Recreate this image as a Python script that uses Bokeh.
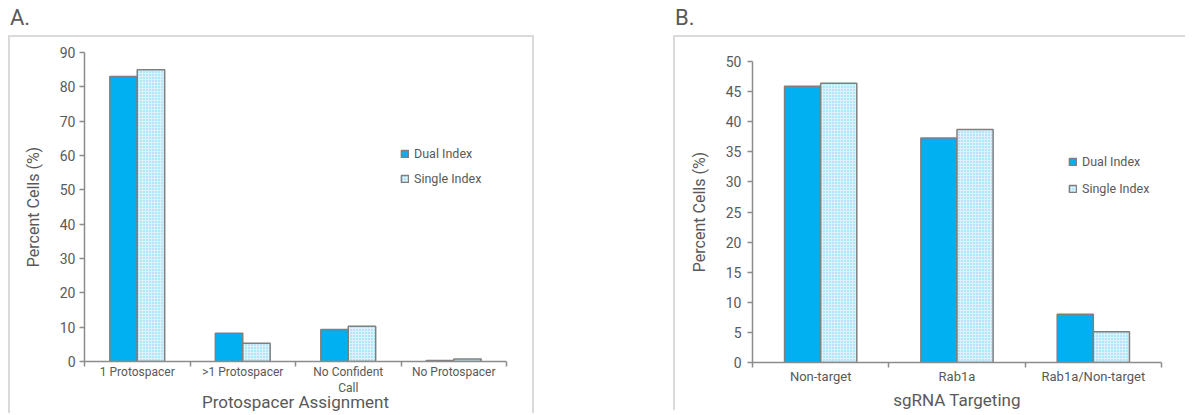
from bokeh.plotting import figure
from bokeh.models import Range1d, FixedTicker, Legend, LegendItem, Div, Spacer
from bokeh.layouts import row, column
from bokeh.embed import file_html
from bokeh.resources import INLINE
import numpy as np

# ---- data ----
series = ["Dual Index", "Single Index"]

a_categories = ["1 Protospacer", ">1 Protospacer", "No Confident\nCall", "No Protospacer"]
a_dual = [83.0, 8.2, 9.3, 0.3]
a_single = [85.0, 5.3, 10.3, 0.7]
a_yticks = [0, 10, 20, 30, 40, 50, 60, 70, 80, 90]

b_categories = ["Non-target", "Rab1a", "Rab1a/Non-target"]
b_dual = [45.9, 37.3, 8.0]
b_single = [46.4, 38.7, 5.1]
b_yticks = [0, 5, 10, 15, 20, 25, 30, 35, 40, 45, 50]

FONT = "Roboto"
TXT = "#595959"
AX = "#8c8c8c"
DUAL = "#00b0f0"
BORDER = "2px solid #dadada"


def panel(cats, dual, single, yticks, xlabel, fw, fh, mb_left, mb_right, mb_top,
          bar_w, leg_loc, leg_spacing, y_std, xl_std, xt_std, xt_size, styles):
    n = len(cats)
    p = figure(frame_width=fw, frame_height=fh, x_range=Range1d(-0.5, n - 0.5),
               y_range=Range1d(yticks[0], yticks[-1]), output_backend="svg",
               toolbar_location=None, min_border_left=mb_left, min_border_right=mb_right,
               min_border_top=mb_top, min_border_bottom=10)
    p.outline_line_color = None
    p.xgrid.grid_line_color = None
    p.ygrid.grid_line_color = None
    p.styles = styles

    idx = np.arange(n)
    r1 = p.vbar(x=idx - bar_w / 2, top=dual, width=bar_w, bottom=0, fill_color=DUAL,
                line_color="#7f7f7f", line_width=1.5)
    r2 = p.vbar(x=idx + bar_w / 2, top=single, width=bar_w, bottom=0, fill_color="#dcf3fd",
                hatch_pattern="dot", hatch_color="#6fd0f5", hatch_scale=3, hatch_weight=1,
                line_color="#7f7f7f", line_width=1.5)

    xa = p.xaxis[0]
    xa.ticker = FixedTicker(ticks=list(idx), minor_ticks=list(np.arange(n + 1) - 0.5))
    xa.major_label_overrides = {int(i): c for i, c in zip(idx, cats)}
    xa.major_tick_line_color = None
    xa.major_tick_out = 0
    xa.major_tick_in = 0
    xa.minor_tick_out = 5
    xa.minor_tick_in = 0
    xa.minor_tick_line_color = AX
    xa.minor_tick_line_width = 1.5
    xa.axis_line_color = AX
    xa.axis_line_width = 1.5
    xa.major_label_standoff = xt_std
    xa.major_label_text_font = FONT
    xa.major_label_text_font_size = xt_size
    xa.major_label_text_color = TXT
    xa.axis_label = xlabel
    xa.axis_label_text_font = FONT
    xa.axis_label_text_font_size = "17px"
    xa.axis_label_text_font_style = "normal"
    xa.axis_label_text_color = TXT
    xa.axis_label_standoff = xl_std

    ya = p.yaxis[0]
    ya.ticker = FixedTicker(ticks=yticks)
    ya.minor_tick_line_color = None
    ya.major_tick_out = 5
    ya.major_tick_in = 0
    ya.major_tick_line_color = AX
    ya.major_tick_line_width = 1.5
    ya.axis_line_color = AX
    ya.axis_line_width = 1.5
    ya.major_label_standoff = y_std
    ya.major_label_text_font = FONT
    ya.major_label_text_font_size = "14px"
    ya.major_label_text_color = TXT
    ya.axis_label = "Percent Cells (%)"
    ya.axis_label_text_font = FONT
    ya.axis_label_text_font_size = "16px"
    ya.axis_label_text_font_style = "normal"
    ya.axis_label_text_color = TXT
    ya.axis_label_standoff = 14

    legend = Legend(items=[LegendItem(label=series[0], renderers=[r1]),
                           LegendItem(label=series[1], renderers=[r2])],
                    location=leg_loc, orientation="vertical", glyph_width=9, glyph_height=9,
                    label_height=12, label_standoff=5, spacing=leg_spacing, padding=0,
                    margin=0, border_line_color=None, background_fill_alpha=0,
                    label_text_font=FONT, label_text_font_size="12.5px",
                    label_text_color=TXT)
    p.add_layout(legend)
    return p


def heading(letter, width):
    return Div(text='<div style="padding:5px 0 0 2px; line-height:26px">%s</div>' % letter,
               width=width, height=35, margin=0,
               styles={"font-size": "22px", "font-family": FONT, "color": TXT})


pA = panel(a_categories, a_dual, a_single, a_yticks, "Protospacer Assignment",
           418, 307, 74, 30, 15, 0.26, (316, 175), 10, 4, -6, -2, "12px",
           {"border-top": BORDER, "border-left": BORDER, "border-right": BORDER})
pB = panel(b_categories, b_dual, b_single, b_yticks, "sgRNA Targeting",
           407, 299, 77, 26, 24, 0.265, (316, 166), 12, 6, 3, 1, "13px",
           {"border-top": BORDER, "border-left": BORDER})

layout = row(Spacer(width=8), column(heading("A.", 526), pA), Spacer(width=139),
             column(heading("B.", 512), pB))
open("out.html", "w").write(file_html(layout, INLINE))
